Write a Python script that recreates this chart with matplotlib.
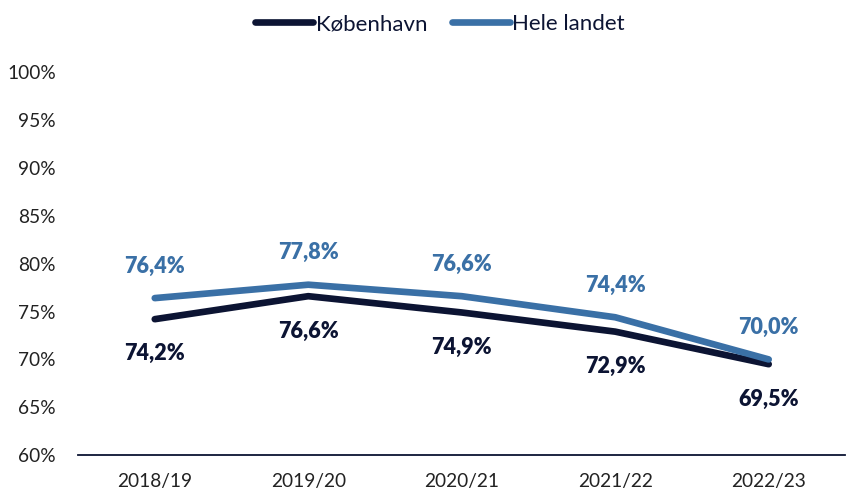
import matplotlib
matplotlib.use("Agg")
from matplotlib import pyplot as plt

plt.rcParams['font.family'] = ['Lato', 'DejaVu Sans']

years = ['2018/19', '2019/20', '2020/21', '2021/22', '2022/23']
kbh = [74.2, 76.6, 74.9, 72.9, 69.5]
hele = [76.4, 77.8, 76.6, 74.4, 70.0]
yticks = [60, 65, 70, 75, 80, 85, 90, 95, 100]

dark = '#0c1433'
blue = '#3a70a6'

fig = plt.figure(figsize=(8.48, 4.9), dpi=100)
ax = fig.add_axes([0.092, 0.071, 0.905, 0.782])
x = list(range(len(years)))
ax.plot(x, kbh, color=dark, lw=4.8, solid_capstyle='round', label='København')
ax.plot(x, hele, color=blue, lw=4.8, solid_capstyle='round', label='Hele landet')

for i in x:
    ax.annotate(f"{hele[i]:.1f}%".replace('.', ','), (i, hele[i]), xytext=(0, 23),
                textcoords='offset points', ha='center', va='center',
                color=blue, fontsize=15.5, fontweight='heavy')
    ax.annotate(f"{kbh[i]:.1f}%".replace('.', ','), (i, kbh[i]), xytext=(0, -25),
                textcoords='offset points', ha='center', va='center',
                color=dark, fontsize=15.5, fontweight='heavy')

ax.set_xlim(-0.5, 4.5)
ax.set_ylim(60, 100)
ax.set_yticks(yticks)
ax.set_yticklabels([f"{v}%" for v in yticks], fontsize=13.8, color='#222222')
ax.set_xticks(x)
ax.set_xticklabels(years, fontsize=13.8, color='#222222')
ax.tick_params(length=0, pad=13)
ax.tick_params(axis='y', pad=16)
for s in ['top', 'right', 'left']:
    ax.spines[s].set_visible(False)
ax.spines['bottom'].set_color(dark)
ax.spines['bottom'].set_linewidth(1.3)

fig.legend(loc='upper center', bbox_to_anchor=(0.519, 1.012), ncol=2, frameon=False,
           fontsize=16, handlelength=2.6, handletextpad=0.12, columnspacing=1.1,
           labelcolor='#0c1433')

fig.savefig('out.png', dpi=100)
